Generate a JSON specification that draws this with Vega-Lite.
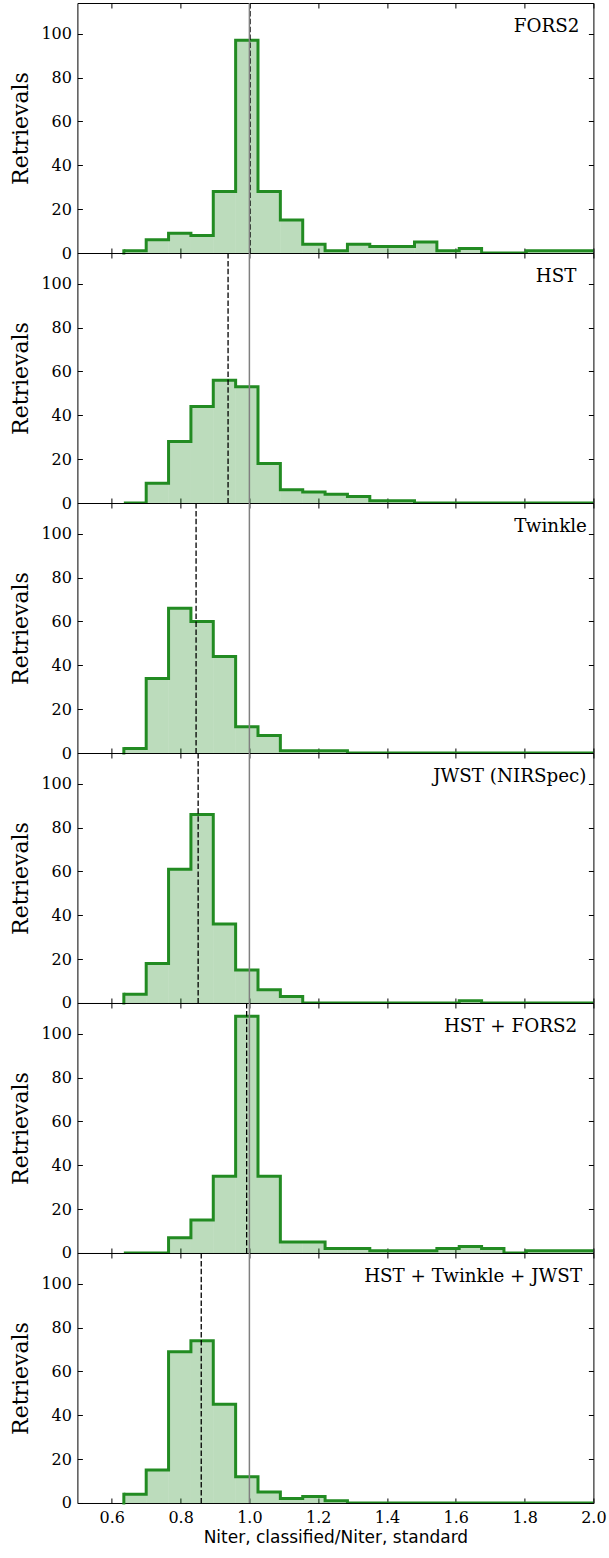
{
"$schema":"https://vega.github.io/schema/vega-lite/v6.json",
"background":"white",
"padding":{"left":8.4,"top":1,"right":5,"bottom":5},
"spacing":0,
"bounds":"flush",
"config":{"view":{"stroke":"#000","strokeWidth":1},
 "axis":{"grid":false,"domain":false,"tickColor":"#000","tickWidth":1,"labelFont":"DejaVu Serif","labelFontSize":16,"labelColor":"#000","labelFlush":false,"labelOverlap":false,"titleColor":"#000","titleFontWeight":"normal"}},
"datasets":{
"panels":[{"panel":"FORS2","median":1.002},{"panel":"HST","median":0.938},{"panel":"Twinkle","median":0.845},{"panel":"JWST (NIRSpec)","median":0.851},{"panel":"HST + FORS2","median":0.992},{"panel":"HST + Twinkle + JWST","median":0.86}],
"hist":[
{"panel":"FORS2","bin_start":0.635,"bin_end":0.7,"count":1},{"panel":"FORS2","bin_start":0.7,"bin_end":0.765,"count":6},{"panel":"FORS2","bin_start":0.765,"bin_end":0.83,"count":9},{"panel":"FORS2","bin_start":0.83,"bin_end":0.895,"count":8},{"panel":"FORS2","bin_start":0.895,"bin_end":0.96,"count":28},{"panel":"FORS2","bin_start":0.96,"bin_end":1.025,"count":97},{"panel":"FORS2","bin_start":1.025,"bin_end":1.09,"count":28},{"panel":"FORS2","bin_start":1.09,"bin_end":1.155,"count":15},{"panel":"FORS2","bin_start":1.155,"bin_end":1.22,"count":4},{"panel":"FORS2","bin_start":1.22,"bin_end":1.285,"count":1},{"panel":"FORS2","bin_start":1.285,"bin_end":1.35,"count":4},{"panel":"FORS2","bin_start":1.35,"bin_end":1.415,"count":3},{"panel":"FORS2","bin_start":1.415,"bin_end":1.48,"count":3},{"panel":"FORS2","bin_start":1.48,"bin_end":1.545,"count":5},{"panel":"FORS2","bin_start":1.545,"bin_end":1.61,"count":1},{"panel":"FORS2","bin_start":1.61,"bin_end":1.675,"count":2},{"panel":"FORS2","bin_start":1.675,"bin_end":1.74,"count":0},{"panel":"FORS2","bin_start":1.74,"bin_end":1.805,"count":0},{"panel":"FORS2","bin_start":1.805,"bin_end":1.87,"count":1},{"panel":"FORS2","bin_start":1.87,"bin_end":1.935,"count":1},{"panel":"FORS2","bin_start":1.935,"bin_end":2.0,"count":1},
{"panel":"HST","bin_start":0.635,"bin_end":0.7,"count":0},{"panel":"HST","bin_start":0.7,"bin_end":0.765,"count":9},{"panel":"HST","bin_start":0.765,"bin_end":0.83,"count":28},{"panel":"HST","bin_start":0.83,"bin_end":0.895,"count":44},{"panel":"HST","bin_start":0.895,"bin_end":0.96,"count":56},{"panel":"HST","bin_start":0.96,"bin_end":1.025,"count":53},{"panel":"HST","bin_start":1.025,"bin_end":1.09,"count":18},{"panel":"HST","bin_start":1.09,"bin_end":1.155,"count":6},{"panel":"HST","bin_start":1.155,"bin_end":1.22,"count":5},{"panel":"HST","bin_start":1.22,"bin_end":1.285,"count":4},{"panel":"HST","bin_start":1.285,"bin_end":1.35,"count":3},{"panel":"HST","bin_start":1.35,"bin_end":1.415,"count":1},{"panel":"HST","bin_start":1.415,"bin_end":1.48,"count":1},{"panel":"HST","bin_start":1.48,"bin_end":1.545,"count":0},{"panel":"HST","bin_start":1.545,"bin_end":1.61,"count":0},{"panel":"HST","bin_start":1.61,"bin_end":1.675,"count":0},{"panel":"HST","bin_start":1.675,"bin_end":1.74,"count":0},{"panel":"HST","bin_start":1.74,"bin_end":1.805,"count":0},{"panel":"HST","bin_start":1.805,"bin_end":1.87,"count":0},{"panel":"HST","bin_start":1.87,"bin_end":1.935,"count":0},{"panel":"HST","bin_start":1.935,"bin_end":2.0,"count":0},
{"panel":"Twinkle","bin_start":0.635,"bin_end":0.7,"count":2},{"panel":"Twinkle","bin_start":0.7,"bin_end":0.765,"count":34},{"panel":"Twinkle","bin_start":0.765,"bin_end":0.83,"count":66},{"panel":"Twinkle","bin_start":0.83,"bin_end":0.895,"count":60},{"panel":"Twinkle","bin_start":0.895,"bin_end":0.96,"count":44},{"panel":"Twinkle","bin_start":0.96,"bin_end":1.025,"count":12},{"panel":"Twinkle","bin_start":1.025,"bin_end":1.09,"count":8},{"panel":"Twinkle","bin_start":1.09,"bin_end":1.155,"count":1},{"panel":"Twinkle","bin_start":1.155,"bin_end":1.22,"count":1},{"panel":"Twinkle","bin_start":1.22,"bin_end":1.285,"count":1},{"panel":"Twinkle","bin_start":1.285,"bin_end":1.35,"count":0},{"panel":"Twinkle","bin_start":1.35,"bin_end":1.415,"count":0},{"panel":"Twinkle","bin_start":1.415,"bin_end":1.48,"count":0},{"panel":"Twinkle","bin_start":1.48,"bin_end":1.545,"count":0},{"panel":"Twinkle","bin_start":1.545,"bin_end":1.61,"count":0},{"panel":"Twinkle","bin_start":1.61,"bin_end":1.675,"count":0},{"panel":"Twinkle","bin_start":1.675,"bin_end":1.74,"count":0},{"panel":"Twinkle","bin_start":1.74,"bin_end":1.805,"count":0},{"panel":"Twinkle","bin_start":1.805,"bin_end":1.87,"count":0},{"panel":"Twinkle","bin_start":1.87,"bin_end":1.935,"count":0},{"panel":"Twinkle","bin_start":1.935,"bin_end":2.0,"count":0},
{"panel":"JWST (NIRSpec)","bin_start":0.635,"bin_end":0.7,"count":4},{"panel":"JWST (NIRSpec)","bin_start":0.7,"bin_end":0.765,"count":18},{"panel":"JWST (NIRSpec)","bin_start":0.765,"bin_end":0.83,"count":61},{"panel":"JWST (NIRSpec)","bin_start":0.83,"bin_end":0.895,"count":86},{"panel":"JWST (NIRSpec)","bin_start":0.895,"bin_end":0.96,"count":36},{"panel":"JWST (NIRSpec)","bin_start":0.96,"bin_end":1.025,"count":15},{"panel":"JWST (NIRSpec)","bin_start":1.025,"bin_end":1.09,"count":6},{"panel":"JWST (NIRSpec)","bin_start":1.09,"bin_end":1.155,"count":3},{"panel":"JWST (NIRSpec)","bin_start":1.155,"bin_end":1.22,"count":0},{"panel":"JWST (NIRSpec)","bin_start":1.22,"bin_end":1.285,"count":0},{"panel":"JWST (NIRSpec)","bin_start":1.285,"bin_end":1.35,"count":0},{"panel":"JWST (NIRSpec)","bin_start":1.35,"bin_end":1.415,"count":0},{"panel":"JWST (NIRSpec)","bin_start":1.415,"bin_end":1.48,"count":0},{"panel":"JWST (NIRSpec)","bin_start":1.48,"bin_end":1.545,"count":0},{"panel":"JWST (NIRSpec)","bin_start":1.545,"bin_end":1.61,"count":0},{"panel":"JWST (NIRSpec)","bin_start":1.61,"bin_end":1.675,"count":1},{"panel":"JWST (NIRSpec)","bin_start":1.675,"bin_end":1.74,"count":0},{"panel":"JWST (NIRSpec)","bin_start":1.74,"bin_end":1.805,"count":0},{"panel":"JWST (NIRSpec)","bin_start":1.805,"bin_end":1.87,"count":0},{"panel":"JWST (NIRSpec)","bin_start":1.87,"bin_end":1.935,"count":0},{"panel":"JWST (NIRSpec)","bin_start":1.935,"bin_end":2.0,"count":0},
{"panel":"HST + FORS2","bin_start":0.635,"bin_end":0.7,"count":0},{"panel":"HST + FORS2","bin_start":0.7,"bin_end":0.765,"count":0},{"panel":"HST + FORS2","bin_start":0.765,"bin_end":0.83,"count":7},{"panel":"HST + FORS2","bin_start":0.83,"bin_end":0.895,"count":15},{"panel":"HST + FORS2","bin_start":0.895,"bin_end":0.96,"count":35},{"panel":"HST + FORS2","bin_start":0.96,"bin_end":1.025,"count":108},{"panel":"HST + FORS2","bin_start":1.025,"bin_end":1.09,"count":35},{"panel":"HST + FORS2","bin_start":1.09,"bin_end":1.155,"count":5},{"panel":"HST + FORS2","bin_start":1.155,"bin_end":1.22,"count":5},{"panel":"HST + FORS2","bin_start":1.22,"bin_end":1.285,"count":2},{"panel":"HST + FORS2","bin_start":1.285,"bin_end":1.35,"count":2},{"panel":"HST + FORS2","bin_start":1.35,"bin_end":1.415,"count":1},{"panel":"HST + FORS2","bin_start":1.415,"bin_end":1.48,"count":1},{"panel":"HST + FORS2","bin_start":1.48,"bin_end":1.545,"count":1},{"panel":"HST + FORS2","bin_start":1.545,"bin_end":1.61,"count":2},{"panel":"HST + FORS2","bin_start":1.61,"bin_end":1.675,"count":3},{"panel":"HST + FORS2","bin_start":1.675,"bin_end":1.74,"count":2},{"panel":"HST + FORS2","bin_start":1.74,"bin_end":1.805,"count":0},{"panel":"HST + FORS2","bin_start":1.805,"bin_end":1.87,"count":1},{"panel":"HST + FORS2","bin_start":1.87,"bin_end":1.935,"count":1},{"panel":"HST + FORS2","bin_start":1.935,"bin_end":2.0,"count":1},
{"panel":"HST + Twinkle + JWST","bin_start":0.635,"bin_end":0.7,"count":4},{"panel":"HST + Twinkle + JWST","bin_start":0.7,"bin_end":0.765,"count":15},{"panel":"HST + Twinkle + JWST","bin_start":0.765,"bin_end":0.83,"count":69},{"panel":"HST + Twinkle + JWST","bin_start":0.83,"bin_end":0.895,"count":74},{"panel":"HST + Twinkle + JWST","bin_start":0.895,"bin_end":0.96,"count":45},{"panel":"HST + Twinkle + JWST","bin_start":0.96,"bin_end":1.025,"count":12},{"panel":"HST + Twinkle + JWST","bin_start":1.025,"bin_end":1.09,"count":5},{"panel":"HST + Twinkle + JWST","bin_start":1.09,"bin_end":1.155,"count":2},{"panel":"HST + Twinkle + JWST","bin_start":1.155,"bin_end":1.22,"count":3},{"panel":"HST + Twinkle + JWST","bin_start":1.22,"bin_end":1.285,"count":1},{"panel":"HST + Twinkle + JWST","bin_start":1.285,"bin_end":1.35,"count":0},{"panel":"HST + Twinkle + JWST","bin_start":1.35,"bin_end":1.415,"count":0},{"panel":"HST + Twinkle + JWST","bin_start":1.415,"bin_end":1.48,"count":0},{"panel":"HST + Twinkle + JWST","bin_start":1.48,"bin_end":1.545,"count":0},{"panel":"HST + Twinkle + JWST","bin_start":1.545,"bin_end":1.61,"count":0},{"panel":"HST + Twinkle + JWST","bin_start":1.61,"bin_end":1.675,"count":0},{"panel":"HST + Twinkle + JWST","bin_start":1.675,"bin_end":1.74,"count":0},{"panel":"HST + Twinkle + JWST","bin_start":1.74,"bin_end":1.805,"count":0},{"panel":"HST + Twinkle + JWST","bin_start":1.805,"bin_end":1.87,"count":0},{"panel":"HST + Twinkle + JWST","bin_start":1.87,"bin_end":1.935,"count":0},{"panel":"HST + Twinkle + JWST","bin_start":1.935,"bin_end":2.0,"count":0}
]},
"vconcat":[
{"width":516,"height":250,"resolve":{"axis":{"x":"independent","y":"independent"}},
"layer":[
{"data":{"name":"hist"},"transform":[{"filter":"datum.panel === 'FORS2'"}],"mark":{"type":"rect","fill":"#228B22","fillOpacity":0.3,"strokeWidth":0,"clip":true},
"encoding":{"x":{"field":"bin_start","type":"quantitative","scale":{"domain":[0.5,2.0],"nice":false,"zero":false},"axis":{"orient":"bottom","values":[0.6,0.8,1.0,1.2,1.4,1.6,1.8,2.0],"labels":false,"title":null,"tickSize":-5}},"x2":{"field":"bin_end"},
"y":{"field":"count","type":"quantitative","scale":{"domain":[0,114],"nice":false},"axis":{"orient":"left","values":[0,20,40,60,80,100],"format":"d","title":"Retrievals","titleFont":"DejaVu Serif","titleFontSize":22,"titlePadding":8,"tickSize":-5,"labelPadding":11}},"y2":{"datum":0}}},
{"data":{"name":"hist"},"transform":[{"filter":"datum.panel === 'FORS2'"},{"fold":["bin_start","bin_end"]}],"mark":{"type":"line","color":"#228B22","strokeWidth":3,"clip":true,"strokeJoin":"miter"},
"encoding":{"x":{"field":"value","type":"quantitative","scale":{"domain":[0.5,2.0],"nice":false,"zero":false},"axis":{"orient":"top","values":[0.6,0.8,1.0,1.2,1.4,1.6,1.8,2.0],"labels":false,"title":null,"tickSize":-5}},
"y":{"field":"count","type":"quantitative","scale":{"domain":[0,114],"nice":false},"axis":{"orient":"right","values":[0,20,40,60,80,100],"labels":false,"title":null,"tickSize":-5}},
"order":[{"field":"value","type":"quantitative"},{"field":"key","type":"nominal"}]}},
{"data":{"name":"hist"},"transform":[{"filter":"datum.panel === 'FORS2' && datum.bin_start < 0.64 && datum.count > 0"}],"mark":{"type":"rule","color":"#228B22","strokeWidth":3,"strokeCap":"square"},
"encoding":{"x":{"field":"bin_start","type":"quantitative","scale":{"domain":[0.5,2.0],"nice":false,"zero":false},"axis":null},"y":{"field":"count","type":"quantitative","scale":{"domain":[0,114],"nice":false},"axis":null},"y2":{"datum":0}}},
{"data":{"name":"panels"},"transform":[{"filter":"datum.panel === 'FORS2'"}],"mark":{"type":"rule","color":"#000","strokeWidth":1.3,"strokeDash":[5.5,2.4]},
"encoding":{"x":{"field":"median","type":"quantitative","scale":{"domain":[0.5,2.0],"nice":false,"zero":false},"axis":null}}},
{"data":{"name":"panels"},"transform":[{"filter":"datum.panel === 'FORS2'"}],"mark":{"type":"rule","color":"#808080","strokeWidth":1.5},
"encoding":{"x":{"datum":1,"type":"quantitative","scale":{"domain":[0.5,2.0],"nice":false,"zero":false},"axis":null}}},
{"data":{"name":"panels"},"transform":[{"filter":"datum.panel === 'FORS2'"}],"mark":{"type":"text","font":"DejaVu Serif","fontSize":18.3,"align":"right","baseline":"alphabetic","dx":-14,"dy":28.6,"color":"#000"},
"encoding":{"x":{"datum":2.0,"type":"quantitative","scale":{"domain":[0.5,2.0],"nice":false,"zero":false},"axis":null},"y":{"datum":114,"type":"quantitative","scale":{"domain":[0,114],"nice":false},"axis":null},"text":{"field":"panel","type":"nominal"}}}
]},
{"width":516,"height":250,"resolve":{"axis":{"x":"independent","y":"independent"}},
"layer":[
{"data":{"name":"hist"},"transform":[{"filter":"datum.panel === 'HST'"}],"mark":{"type":"rect","fill":"#228B22","fillOpacity":0.3,"strokeWidth":0,"clip":true},
"encoding":{"x":{"field":"bin_start","type":"quantitative","scale":{"domain":[0.5,2.0],"nice":false,"zero":false},"axis":{"orient":"bottom","values":[0.6,0.8,1.0,1.2,1.4,1.6,1.8,2.0],"labels":false,"title":null,"tickSize":-5}},"x2":{"field":"bin_end"},
"y":{"field":"count","type":"quantitative","scale":{"domain":[0,114],"nice":false},"axis":{"orient":"left","values":[0,20,40,60,80,100],"format":"d","title":"Retrievals","titleFont":"DejaVu Serif","titleFontSize":22,"titlePadding":8,"tickSize":-5,"labelPadding":11}},"y2":{"datum":0}}},
{"data":{"name":"hist"},"transform":[{"filter":"datum.panel === 'HST'"},{"fold":["bin_start","bin_end"]}],"mark":{"type":"line","color":"#228B22","strokeWidth":3,"clip":true,"strokeJoin":"miter"},
"encoding":{"x":{"field":"value","type":"quantitative","scale":{"domain":[0.5,2.0],"nice":false,"zero":false},"axis":{"orient":"top","values":[0.6,0.8,1.0,1.2,1.4,1.6,1.8,2.0],"labels":false,"title":null,"tickSize":-5}},
"y":{"field":"count","type":"quantitative","scale":{"domain":[0,114],"nice":false},"axis":{"orient":"right","values":[0,20,40,60,80,100],"labels":false,"title":null,"tickSize":-5}},
"order":[{"field":"value","type":"quantitative"},{"field":"key","type":"nominal"}]}},
{"data":{"name":"panels"},"transform":[{"filter":"datum.panel === 'HST'"}],"mark":{"type":"rule","color":"#000","strokeWidth":1.3,"strokeDash":[5.5,2.4]},
"encoding":{"x":{"field":"median","type":"quantitative","scale":{"domain":[0.5,2.0],"nice":false,"zero":false},"axis":null}}},
{"data":{"name":"panels"},"transform":[{"filter":"datum.panel === 'HST'"}],"mark":{"type":"rule","color":"#808080","strokeWidth":1.5},
"encoding":{"x":{"datum":1,"type":"quantitative","scale":{"domain":[0.5,2.0],"nice":false,"zero":false},"axis":null}}},
{"data":{"name":"panels"},"transform":[{"filter":"datum.panel === 'HST'"}],"mark":{"type":"text","font":"DejaVu Serif","fontSize":18.3,"align":"right","baseline":"alphabetic","dx":-17,"dy":28.6,"color":"#000"},
"encoding":{"x":{"datum":2.0,"type":"quantitative","scale":{"domain":[0.5,2.0],"nice":false,"zero":false},"axis":null},"y":{"datum":114,"type":"quantitative","scale":{"domain":[0,114],"nice":false},"axis":null},"text":{"field":"panel","type":"nominal"}}}
]},
{"width":516,"height":250,"resolve":{"axis":{"x":"independent","y":"independent"}},
"layer":[
{"data":{"name":"hist"},"transform":[{"filter":"datum.panel === 'Twinkle'"}],"mark":{"type":"rect","fill":"#228B22","fillOpacity":0.3,"strokeWidth":0,"clip":true},
"encoding":{"x":{"field":"bin_start","type":"quantitative","scale":{"domain":[0.5,2.0],"nice":false,"zero":false},"axis":{"orient":"bottom","values":[0.6,0.8,1.0,1.2,1.4,1.6,1.8,2.0],"labels":false,"title":null,"tickSize":-5}},"x2":{"field":"bin_end"},
"y":{"field":"count","type":"quantitative","scale":{"domain":[0,114],"nice":false},"axis":{"orient":"left","values":[0,20,40,60,80,100],"format":"d","title":"Retrievals","titleFont":"DejaVu Serif","titleFontSize":22,"titlePadding":8,"tickSize":-5,"labelPadding":11}},"y2":{"datum":0}}},
{"data":{"name":"hist"},"transform":[{"filter":"datum.panel === 'Twinkle'"},{"fold":["bin_start","bin_end"]}],"mark":{"type":"line","color":"#228B22","strokeWidth":3,"clip":true,"strokeJoin":"miter"},
"encoding":{"x":{"field":"value","type":"quantitative","scale":{"domain":[0.5,2.0],"nice":false,"zero":false},"axis":{"orient":"top","values":[0.6,0.8,1.0,1.2,1.4,1.6,1.8,2.0],"labels":false,"title":null,"tickSize":-5}},
"y":{"field":"count","type":"quantitative","scale":{"domain":[0,114],"nice":false},"axis":{"orient":"right","values":[0,20,40,60,80,100],"labels":false,"title":null,"tickSize":-5}},
"order":[{"field":"value","type":"quantitative"},{"field":"key","type":"nominal"}]}},
{"data":{"name":"hist"},"transform":[{"filter":"datum.panel === 'Twinkle' && datum.bin_start < 0.64 && datum.count > 0"}],"mark":{"type":"rule","color":"#228B22","strokeWidth":3,"strokeCap":"square"},
"encoding":{"x":{"field":"bin_start","type":"quantitative","scale":{"domain":[0.5,2.0],"nice":false,"zero":false},"axis":null},"y":{"field":"count","type":"quantitative","scale":{"domain":[0,114],"nice":false},"axis":null},"y2":{"datum":0}}},
{"data":{"name":"panels"},"transform":[{"filter":"datum.panel === 'Twinkle'"}],"mark":{"type":"rule","color":"#000","strokeWidth":1.3,"strokeDash":[5.5,2.4]},
"encoding":{"x":{"field":"median","type":"quantitative","scale":{"domain":[0.5,2.0],"nice":false,"zero":false},"axis":null}}},
{"data":{"name":"panels"},"transform":[{"filter":"datum.panel === 'Twinkle'"}],"mark":{"type":"rule","color":"#808080","strokeWidth":1.5},
"encoding":{"x":{"datum":1,"type":"quantitative","scale":{"domain":[0.5,2.0],"nice":false,"zero":false},"axis":null}}},
{"data":{"name":"panels"},"transform":[{"filter":"datum.panel === 'Twinkle'"}],"mark":{"type":"text","font":"DejaVu Serif","fontSize":18.3,"align":"right","baseline":"alphabetic","dx":-6.5,"dy":28.6,"color":"#000"},
"encoding":{"x":{"datum":2.0,"type":"quantitative","scale":{"domain":[0.5,2.0],"nice":false,"zero":false},"axis":null},"y":{"datum":114,"type":"quantitative","scale":{"domain":[0,114],"nice":false},"axis":null},"text":{"field":"panel","type":"nominal"}}}
]},
{"width":516,"height":250,"resolve":{"axis":{"x":"independent","y":"independent"}},
"layer":[
{"data":{"name":"hist"},"transform":[{"filter":"datum.panel === 'JWST (NIRSpec)'"}],"mark":{"type":"rect","fill":"#228B22","fillOpacity":0.3,"strokeWidth":0,"clip":true},
"encoding":{"x":{"field":"bin_start","type":"quantitative","scale":{"domain":[0.5,2.0],"nice":false,"zero":false},"axis":{"orient":"bottom","values":[0.6,0.8,1.0,1.2,1.4,1.6,1.8,2.0],"labels":false,"title":null,"tickSize":-5}},"x2":{"field":"bin_end"},
"y":{"field":"count","type":"quantitative","scale":{"domain":[0,114],"nice":false},"axis":{"orient":"left","values":[0,20,40,60,80,100],"format":"d","title":"Retrievals","titleFont":"DejaVu Serif","titleFontSize":22,"titlePadding":8,"tickSize":-5,"labelPadding":11}},"y2":{"datum":0}}},
{"data":{"name":"hist"},"transform":[{"filter":"datum.panel === 'JWST (NIRSpec)'"},{"fold":["bin_start","bin_end"]}],"mark":{"type":"line","color":"#228B22","strokeWidth":3,"clip":true,"strokeJoin":"miter"},
"encoding":{"x":{"field":"value","type":"quantitative","scale":{"domain":[0.5,2.0],"nice":false,"zero":false},"axis":{"orient":"top","values":[0.6,0.8,1.0,1.2,1.4,1.6,1.8,2.0],"labels":false,"title":null,"tickSize":-5}},
"y":{"field":"count","type":"quantitative","scale":{"domain":[0,114],"nice":false},"axis":{"orient":"right","values":[0,20,40,60,80,100],"labels":false,"title":null,"tickSize":-5}},
"order":[{"field":"value","type":"quantitative"},{"field":"key","type":"nominal"}]}},
{"data":{"name":"hist"},"transform":[{"filter":"datum.panel === 'JWST (NIRSpec)' && datum.bin_start < 0.64 && datum.count > 0"}],"mark":{"type":"rule","color":"#228B22","strokeWidth":3,"strokeCap":"square"},
"encoding":{"x":{"field":"bin_start","type":"quantitative","scale":{"domain":[0.5,2.0],"nice":false,"zero":false},"axis":null},"y":{"field":"count","type":"quantitative","scale":{"domain":[0,114],"nice":false},"axis":null},"y2":{"datum":0}}},
{"data":{"name":"panels"},"transform":[{"filter":"datum.panel === 'JWST (NIRSpec)'"}],"mark":{"type":"rule","color":"#000","strokeWidth":1.3,"strokeDash":[5.5,2.4]},
"encoding":{"x":{"field":"median","type":"quantitative","scale":{"domain":[0.5,2.0],"nice":false,"zero":false},"axis":null}}},
{"data":{"name":"panels"},"transform":[{"filter":"datum.panel === 'JWST (NIRSpec)'"}],"mark":{"type":"rule","color":"#808080","strokeWidth":1.5},
"encoding":{"x":{"datum":1,"type":"quantitative","scale":{"domain":[0.5,2.0],"nice":false,"zero":false},"axis":null}}},
{"data":{"name":"panels"},"transform":[{"filter":"datum.panel === 'JWST (NIRSpec)'"}],"mark":{"type":"text","font":"DejaVu Serif","fontSize":18.3,"align":"right","baseline":"alphabetic","dx":-7,"dy":28.6,"color":"#000"},
"encoding":{"x":{"datum":2.0,"type":"quantitative","scale":{"domain":[0.5,2.0],"nice":false,"zero":false},"axis":null},"y":{"datum":114,"type":"quantitative","scale":{"domain":[0,114],"nice":false},"axis":null},"text":{"field":"panel","type":"nominal"}}}
]},
{"width":516,"height":250,"resolve":{"axis":{"x":"independent","y":"independent"}},
"layer":[
{"data":{"name":"hist"},"transform":[{"filter":"datum.panel === 'HST + FORS2'"}],"mark":{"type":"rect","fill":"#228B22","fillOpacity":0.3,"strokeWidth":0,"clip":true},
"encoding":{"x":{"field":"bin_start","type":"quantitative","scale":{"domain":[0.5,2.0],"nice":false,"zero":false},"axis":{"orient":"bottom","values":[0.6,0.8,1.0,1.2,1.4,1.6,1.8,2.0],"labels":false,"title":null,"tickSize":-5}},"x2":{"field":"bin_end"},
"y":{"field":"count","type":"quantitative","scale":{"domain":[0,114],"nice":false},"axis":{"orient":"left","values":[0,20,40,60,80,100],"format":"d","title":"Retrievals","titleFont":"DejaVu Serif","titleFontSize":22,"titlePadding":8,"tickSize":-5,"labelPadding":11}},"y2":{"datum":0}}},
{"data":{"name":"hist"},"transform":[{"filter":"datum.panel === 'HST + FORS2'"},{"fold":["bin_start","bin_end"]}],"mark":{"type":"line","color":"#228B22","strokeWidth":3,"clip":true,"strokeJoin":"miter"},
"encoding":{"x":{"field":"value","type":"quantitative","scale":{"domain":[0.5,2.0],"nice":false,"zero":false},"axis":{"orient":"top","values":[0.6,0.8,1.0,1.2,1.4,1.6,1.8,2.0],"labels":false,"title":null,"tickSize":-5}},
"y":{"field":"count","type":"quantitative","scale":{"domain":[0,114],"nice":false},"axis":{"orient":"right","values":[0,20,40,60,80,100],"labels":false,"title":null,"tickSize":-5}},
"order":[{"field":"value","type":"quantitative"},{"field":"key","type":"nominal"}]}},
{"data":{"name":"panels"},"transform":[{"filter":"datum.panel === 'HST + FORS2'"}],"mark":{"type":"rule","color":"#000","strokeWidth":1.3,"strokeDash":[5.5,2.4]},
"encoding":{"x":{"field":"median","type":"quantitative","scale":{"domain":[0.5,2.0],"nice":false,"zero":false},"axis":null}}},
{"data":{"name":"panels"},"transform":[{"filter":"datum.panel === 'HST + FORS2'"}],"mark":{"type":"rule","color":"#808080","strokeWidth":1.5},
"encoding":{"x":{"datum":1,"type":"quantitative","scale":{"domain":[0.5,2.0],"nice":false,"zero":false},"axis":null}}},
{"data":{"name":"panels"},"transform":[{"filter":"datum.panel === 'HST + FORS2'"}],"mark":{"type":"text","font":"DejaVu Serif","fontSize":18.3,"align":"right","baseline":"alphabetic","dx":-16.3,"dy":28.6,"color":"#000"},
"encoding":{"x":{"datum":2.0,"type":"quantitative","scale":{"domain":[0.5,2.0],"nice":false,"zero":false},"axis":null},"y":{"datum":114,"type":"quantitative","scale":{"domain":[0,114],"nice":false},"axis":null},"text":{"field":"panel","type":"nominal"}}}
]},
{"width":516,"height":250,"resolve":{"axis":{"x":"independent","y":"independent"}},
"layer":[
{"data":{"name":"hist"},"transform":[{"filter":"datum.panel === 'HST + Twinkle + JWST'"}],"mark":{"type":"rect","fill":"#228B22","fillOpacity":0.3,"strokeWidth":0,"clip":true},
"encoding":{"x":{"field":"bin_start","type":"quantitative","scale":{"domain":[0.5,2.0],"nice":false,"zero":false},"axis":{"orient":"bottom","values":[0.6,0.8,1.0,1.2,1.4,1.6,1.8,2.0],"format":".1f","labels":true,"title":"Niter, classified/Niter, standard","titleFont":"DejaVu Sans","titleFontSize":17,"titlePadding":4,"tickSize":-5,"labelPadding":12}},"x2":{"field":"bin_end"},
"y":{"field":"count","type":"quantitative","scale":{"domain":[0,114],"nice":false},"axis":{"orient":"left","values":[0,20,40,60,80,100],"format":"d","title":"Retrievals","titleFont":"DejaVu Serif","titleFontSize":22,"titlePadding":8,"tickSize":-5,"labelPadding":11}},"y2":{"datum":0}}},
{"data":{"name":"hist"},"transform":[{"filter":"datum.panel === 'HST + Twinkle + JWST'"},{"fold":["bin_start","bin_end"]}],"mark":{"type":"line","color":"#228B22","strokeWidth":3,"clip":true,"strokeJoin":"miter"},
"encoding":{"x":{"field":"value","type":"quantitative","scale":{"domain":[0.5,2.0],"nice":false,"zero":false},"axis":{"orient":"top","values":[0.6,0.8,1.0,1.2,1.4,1.6,1.8,2.0],"labels":false,"title":null,"tickSize":-5}},
"y":{"field":"count","type":"quantitative","scale":{"domain":[0,114],"nice":false},"axis":{"orient":"right","values":[0,20,40,60,80,100],"labels":false,"title":null,"tickSize":-5}},
"order":[{"field":"value","type":"quantitative"},{"field":"key","type":"nominal"}]}},
{"data":{"name":"hist"},"transform":[{"filter":"datum.panel === 'HST + Twinkle + JWST' && datum.bin_start < 0.64 && datum.count > 0"}],"mark":{"type":"rule","color":"#228B22","strokeWidth":3,"strokeCap":"square"},
"encoding":{"x":{"field":"bin_start","type":"quantitative","scale":{"domain":[0.5,2.0],"nice":false,"zero":false},"axis":null},"y":{"field":"count","type":"quantitative","scale":{"domain":[0,114],"nice":false},"axis":null},"y2":{"datum":0}}},
{"data":{"name":"panels"},"transform":[{"filter":"datum.panel === 'HST + Twinkle + JWST'"}],"mark":{"type":"rule","color":"#000","strokeWidth":1.3,"strokeDash":[5.5,2.4]},
"encoding":{"x":{"field":"median","type":"quantitative","scale":{"domain":[0.5,2.0],"nice":false,"zero":false},"axis":null}}},
{"data":{"name":"panels"},"transform":[{"filter":"datum.panel === 'HST + Twinkle + JWST'"}],"mark":{"type":"rule","color":"#808080","strokeWidth":1.5},
"encoding":{"x":{"datum":1,"type":"quantitative","scale":{"domain":[0.5,2.0],"nice":false,"zero":false},"axis":null}}},
{"data":{"name":"panels"},"transform":[{"filter":"datum.panel === 'HST + Twinkle + JWST'"}],"mark":{"type":"text","font":"DejaVu Serif","fontSize":18.3,"align":"right","baseline":"alphabetic","dx":-11.3,"dy":28.6,"color":"#000"},
"encoding":{"x":{"datum":2.0,"type":"quantitative","scale":{"domain":[0.5,2.0],"nice":false,"zero":false},"axis":null},"y":{"datum":114,"type":"quantitative","scale":{"domain":[0,114],"nice":false},"axis":null},"text":{"field":"panel","type":"nominal"}}}
]}
]
}
